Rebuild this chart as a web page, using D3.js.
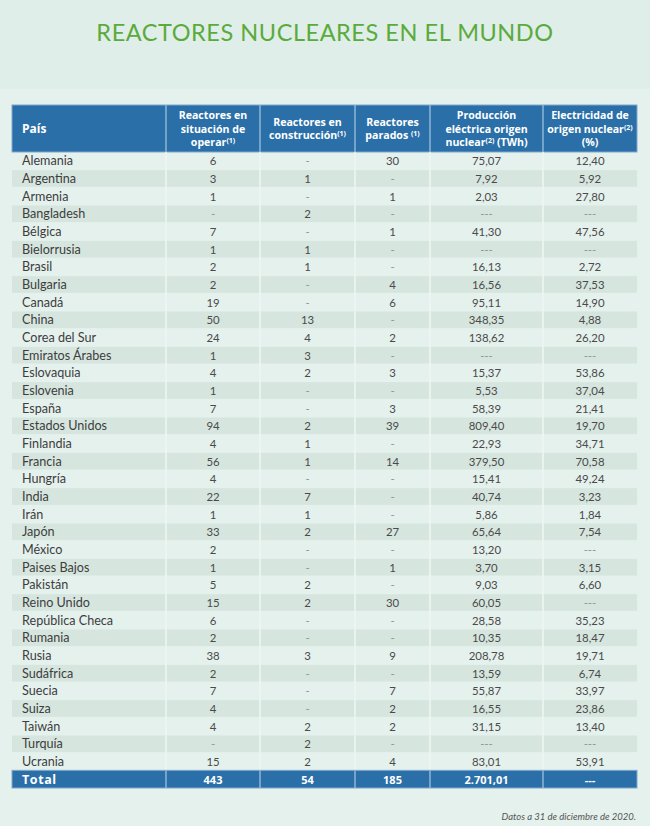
<!DOCTYPE html>
<html><head><meta charset="utf-8">
<script src="https://cdn.jsdelivr.net/npm/d3@7"></script>
<style>
html,body{margin:0;padding:0;background:#e5f1ed;}
svg{display:block;}
</style></head>
<body><div id="chart"></div>
<script>
const title = "REACTORES NUCLEARES EN EL MUNDO";
const footnote = "Datos a 31 de diciembre de 2020.";
const countries = ["Alemania","Argentina","Armenia","Bangladesh","Bélgica","Bielorrusia","Brasil","Bulgaria","Canadá","China","Corea del Sur","Emiratos Árabes","Eslovaquia","Eslovenia","España","Estados Unidos","Finlandia","Francia","Hungría","India","Irán","Japón","México","Paises Bajos","Pakistán","Reino Unido","República Checa","Rumania","Rusia","Sudáfrica","Suecia","Suiza","Taiwán","Turquía","Ucrania"];
const operating = [6,3,1,null,7,1,2,2,19,50,24,1,4,1,7,94,4,56,4,22,1,33,2,1,5,15,6,2,38,2,7,4,4,null,15];
const construction = [null,1,null,2,null,1,1,null,null,13,4,3,2,null,null,2,1,1,null,7,1,2,null,null,2,2,null,null,3,null,null,null,2,2,2];
const stopped = [30,null,1,null,1,null,null,4,6,null,2,null,3,null,3,39,null,14,null,null,null,27,null,1,null,30,null,null,9,null,7,2,2,null,4];
const production = [75.07,7.92,2.03,null,41.30,null,16.13,16.56,95.11,348.35,138.62,null,15.37,5.53,58.39,809.40,22.93,379.50,15.41,40.74,5.86,65.64,13.20,3.70,9.03,60.05,28.58,10.35,208.78,13.59,55.87,16.55,31.15,null,83.01];
const share = [12.40,5.92,27.80,null,47.56,null,2.72,37.53,14.90,4.88,26.20,null,53.86,37.04,21.41,19.70,34.71,70.58,49.24,3.23,1.84,7.54,null,3.15,6.60,null,35.23,18.47,19.71,6.74,33.97,23.86,13.40,null,53.91];
const totalLabel = "Total";
const totals = [443,54,185,2701.01,null];
// header labels: lines, each line = [text, superscript, trailing text]
const headers = [
  [["País",""]],
  [["Reactores en",""],["situación de",""],["operar","(1)"]],
  [["Reactores en",""],["construcción","(1)"]],
  [["Reactores",""],["parados ","(1)"]],
  [["Producción",""],["eléctrica origen",""],["nuclear","(2)"," (TWh)"]],
  [["Electricidad de",""],["origen nuclear","(2)"],["(%)",""]]
];

const W = 650, H = 826;
const es = d3.formatLocale({decimal:",", thousands:".", grouping:[3], currency:["","€"]});
const fmt2 = es.format(",.2f");
const fmtInt = d3.format("d");
const columns = [
  {vals: operating, f: fmtInt, empty: "-"},
  {vals: construction, f: fmtInt, empty: "-"},
  {vals: stopped, f: fmtInt, empty: "-"},
  {vals: production, f: fmt2, empty: "---"},
  {vals: share, f: fmt2, empty: "---"}
];

const svg = d3.select("#chart").append("svg").attr("width", W).attr("height", H);
svg.append("rect").attr("width", W).attr("height", H).attr("fill", "#e5f1ed");
svg.append("rect").attr("width", W).attr("height", 89).attr("fill", "#e0eee9");

svg.append("text").attr("x", W/2).attr("y", 41).attr("text-anchor","middle")
  .attr("font-family","Lato, 'Open Sans', sans-serif").attr("font-weight", 400)
  .attr("font-size", 23.5).attr("fill","#5aab3c").attr("letter-spacing", 0.55).text(title);

const edges = [12, 166, 260, 355, 430, 543, 637];
const headerTop = 105, headerBottom = 152, tableBottom = 788;
const rowKeys = d3.range(countries.length + 1);
const y = d3.scaleBand().domain(rowKeys).range([headerBottom, tableBottom]).padding(0);

// header
const hg = svg.append("g");
hg.append("rect").attr("x", edges[0]).attr("y", headerTop).attr("width", edges[6]-edges[0]).attr("height", headerBottom-headerTop)
  .attr("fill","#2a6fa8").attr("stroke","#7fa8cc").attr("stroke-width",1);
headers.forEach((lines, ci) => {
  const x0 = edges[ci], x1 = edges[ci+1];
  const cx = ci === 0 ? x0 + 10 : (x0 + x1)/2;
  const lh = 13.4;
  const mid = (headerTop + headerBottom)/2 + 4;
  const startY = mid - (lines.length-1)*lh/2;
  lines.forEach((ln, li) => {
    const t = hg.append("text").attr("x", cx).attr("y", startY + li*lh)
      .attr("text-anchor", ci === 0 ? "start" : "middle")
      .attr("font-family","'Open Sans', Lato, sans-serif").attr("font-weight", 700)
      .attr("font-size", ci === 0 ? 12 : 10.6).attr("fill","#ffffff");
    t.append("tspan").text(ln[0]);
    if (ln[1]) t.append("tspan").attr("dy", -3).attr("font-size", 7).text(ln[1]);
    if (ln[2]) t.append("tspan").attr("dy", 3).text(ln[2]);
  });
});
hg.selectAll("line.hsep").data(edges.slice(1,6)).join("line")
  .attr("x1", d=>d).attr("x2", d=>d).attr("y1", headerTop).attr("y2", headerBottom)
  .attr("stroke","#8fb4d4").attr("stroke-width",1.5);

// body rows
const body = svg.append("g");
countries.forEach((c, i) => {
  const ry = y(i), rh = y.bandwidth();
  if (i % 2 === 1) {
    body.append("rect").attr("x", edges[0]).attr("y", ry+0.5).attr("width", edges[6]-edges[0]).attr("height", rh-1)
      .attr("fill","#d6e6df");
  }
  body.append("text").attr("x", 22).attr("y", ry + rh/2 + 4.5)
    .attr("font-family","Lato, 'Open Sans', sans-serif").attr("font-size", 12.6).attr("fill","#3d3d3d").text(c);
  columns.forEach((col, ci) => {
    const v = col.vals[i];
    const isEmpty = v === null;
    body.append("text").attr("x", (edges[ci+1]+edges[ci+2])/2).attr("y", ry + rh/2 + 4.5)
      .attr("text-anchor","middle").attr("font-family","Lato, 'Open Sans', sans-serif")
      .attr("font-size", 11.4).attr("fill", isEmpty ? "#8a9894" : "#4a4a4a").text(isEmpty ? col.empty : col.f(v));
  });
});
body.selectAll("line.bsep").data(edges.slice(1,6)).join("line")
  .attr("x1", d=>d).attr("x2", d=>d).attr("y1", headerBottom).attr("y2", y(countries.length))
  .attr("stroke","#eef6f3").attr("stroke-width",1.5);

// total row
const ti = countries.length;
const tg = svg.append("g");
tg.append("rect").attr("x", edges[0]).attr("y", y(ti)).attr("width", edges[6]-edges[0]).attr("height", y.bandwidth())
  .attr("fill","#2a6fa8").attr("stroke","#7fa8cc").attr("stroke-width",1);
tg.selectAll("line").data(edges.slice(1,6)).join("line")
  .attr("x1", d=>d).attr("x2", d=>d).attr("y1", y(ti)).attr("y2", y(ti)+y.bandwidth())
  .attr("stroke","#8fb4d4").attr("stroke-width",1.5);
tg.append("text").attr("x", 22).attr("y", y(ti) + y.bandwidth()/2 + 4.5)
  .attr("font-family","'Open Sans', Lato, sans-serif").attr("font-weight",700).attr("font-size",12.5)
  .attr("letter-spacing",0.6).attr("fill","#fff").text(totalLabel);
totals.forEach((v, ci) => {
  tg.append("text").attr("x", (edges[ci+1]+edges[ci+2])/2).attr("y", y(ti) + y.bandwidth()/2 + 4.5)
    .attr("text-anchor","middle").attr("font-family","'Open Sans', Lato, sans-serif").attr("font-weight",700)
    .attr("font-size",11).attr("fill","#fff")
    .text(v === null ? "---" : columns[ci].f(v));
});

svg.append("text").attr("x", 636).attr("y", 820).attr("text-anchor","end")
  .attr("font-family","Lato, 'Open Sans', sans-serif").attr("font-style","italic")
  .attr("font-size", 9.5).attr("fill","#555").text(footnote);
</script>
</body></html>
